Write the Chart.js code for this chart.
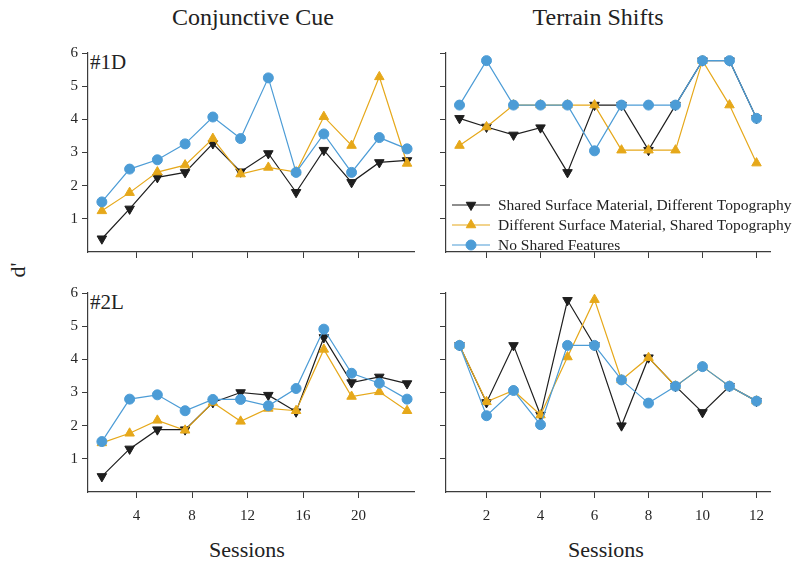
<!DOCTYPE html>
<html>
<head>
<meta charset="utf-8">
<script src="https://cdn.jsdelivr.net/npm/chart.js@4/dist/chart.umd.min.js"></script>
<style>
  body { margin: 0; background: #fff; width: 800px; height: 566px; overflow: hidden; position: relative; font-family: "Liberation Serif", "Times New Roman", serif; color: #222; }
  canvas { position: absolute; }
  .txt { position: absolute; white-space: nowrap; line-height: 1; }
</style>
</head>
<body>
<div class="txt" style="left:253px;top:5px;font-size:24px;transform:translateX(-50%)">Conjunctive Cue</div>
<div class="txt" style="left:598px;top:5px;font-size:24px;transform:translateX(-50%)">Terrain Shifts</div>
<div class="txt" style="left:247px;top:539px;font-size:22px;transform:translateX(-50%)">Sessions</div>
<div class="txt" style="left:606px;top:539px;font-size:22px;transform:translateX(-50%)">Sessions</div>
<div class="txt" style="left:18px;top:270px;font-size:22px;transform:translate(-50%,-50%) rotate(-90deg)">d'</div>
<div class="txt" style="left:90px;top:52px;font-size:21px">#1D</div>
<div class="txt" style="left:90px;top:292px;font-size:21px">#2L</div>

<canvas id="cue1D" width="386" height="257" style="left:43px;top:40px"></canvas>
<canvas id="terrain1D" width="399" height="257" style="left:401px;top:40px"></canvas>
<canvas id="cue2L" width="386" height="257" style="left:43px;top:280px"></canvas>
<canvas id="terrain2L" width="399" height="257" style="left:401px;top:280px"></canvas>

<script>
// sessions on the x axis
const cueSessions = [1.5, 3.5, 5.5, 7.5, 9.5, 11.5, 13.5, 15.5, 17.5, 19.5, 21.5, 23.5];
const terrainSessions = [1, 2, 3, 4, 5, 6, 7, 8, 9, 10, 11, 12];
const cueTicks = [4, 8, 12, 16, 20];
const terrainTicks = [2, 4, 6, 8, 10, 12];
const yTicks = [1, 2, 3, 4, 5, 6];

const seriesNames = [
    "Shared Surface Material, Different Topography",
    "Different Surface Material, Shared Topography",
    "No Shared Features"
];

// #1D
const cue1DShared = [0.40, 1.30, 2.25, 2.40, 3.27, 2.42, 2.97, 1.80, 3.07, 2.10, 2.70, 2.76];
const cue1DDiff = [1.24, 1.79, 2.41, 2.62, 3.42, 2.35, 2.55, 2.41, 4.08, 3.21, 5.28, 2.67];
const cue1DNone = [1.51, 2.50, 2.78, 3.26, 4.07, 3.42, 5.25, 2.40, 3.56, 2.40, 3.45, 3.11];
const terrain1DShared = [4.03, 3.77, 3.53, 3.75, 2.40, 4.43, 4.43, 3.07, 4.43, 5.77, 5.77, 4.03];
const terrain1DDiff = [3.21, 3.77, 4.43, 4.43, 4.43, 4.43, 3.07, 3.07, 3.07, 5.77, 4.43, 2.68];
const terrain1DNone = [4.43, 5.77, 4.43, 4.43, 4.43, 3.05, 4.43, 4.43, 4.43, 5.77, 5.77, 4.03];

// #2L
const cue2LShared = [0.47, 1.30, 1.88, 1.88, 2.70, 3.00, 2.92, 2.42, 4.66, 3.30, 3.47, 3.27];
const cue2LDiff = [1.48, 1.77, 2.16, 1.86, 2.70, 2.13, 2.52, 2.45, 4.30, 2.88, 3.02, 2.45];
const cue2LNone = [1.52, 2.80, 2.93, 2.45, 2.79, 2.79, 2.60, 3.12, 4.91, 3.58, 3.28, 2.80];
const terrain2LShared = [4.42, 2.70, 4.42, 2.32, 5.78, 4.42, 2.00, 4.05, 3.19, 2.40, 3.19, 2.74];
const terrain2LDiff = [4.42, 2.72, 3.06, 2.32, 4.07, 5.80, 3.38, 4.05, 3.19, 3.78, 3.19, 2.74];
const terrain2LNone = [4.42, 2.30, 3.06, 2.03, 4.42, 4.42, 3.38, 2.68, 3.19, 3.78, 3.19, 2.74];

const black = '#1e1e1e';
const orange = '#E6A81A';
const blue = '#4C9CD6';
const axisColor = '#3c3c3c';
const tickFont = { family: "'Liberation Serif', 'Times New Roman', serif", size: 15 };

// legend drawn inside the top right panel
const insideLegend = {
    id: 'insideLegend',
    afterDatasetsDraw(chart, args, opts) {
        if (!opts.show) return;
        let ctx = chart.ctx;
        let area = chart.chartArea;
        ctx.save();
        seriesNames.forEach((name, i) => {
            let ds = chart.data.datasets.find(d => d.label === name);
            let y = area.top + 152 + i * 20;
            ctx.strokeStyle = ds.borderColor;
            ctx.lineWidth = ds.borderWidth;
            ctx.beginPath();
            ctx.moveTo(area.left + 6, y);
            ctx.lineTo(area.left + 44, y);
            ctx.stroke();
            ctx.fillStyle = ds.pointBackgroundColor;
            ctx.lineWidth = 1;
            Chart.helpers.drawPoint(ctx, {
                pointStyle: ds.pointStyle,
                radius: ds.pointRadius,
                rotation: ds.pointRotation || 0,
                borderWidth: 1
            }, area.left + 25, y);
            ctx.fillStyle = '#222';
            ctx.font = "15.5px 'Liberation Serif', 'Times New Roman', serif";
            ctx.textBaseline = 'middle';
            ctx.fillText(name, area.left + 52, y + 1);
        });
        ctx.restore();
    }
};

function makeDataset(label, xs, ys, color, style, radius, rotation, order) {
    return {
        label: label,
        data: xs.map((x, i) => ({ x: x, y: ys[i] })),
        borderColor: color,
        backgroundColor: color,
        pointBackgroundColor: color,
        pointBorderColor: color,
        pointBorderWidth: 1,
        pointStyle: style,
        pointRadius: radius,
        pointRotation: rotation,
        borderWidth: 1.2,
        tension: 0,
        fill: false,
        order: order
    };
}

function setupPanel(id, xs, shared, diff, none, xMax, xTicks, showXLabels, showYLabels, showLegend, padRight) {
    let ctx = document.getElementById(id).getContext('2d');
    return new Chart(ctx, {
        type: 'line',
        data: {
            datasets: [
                makeDataset(seriesNames[0], xs, shared, black, 'triangle', 5.5, 180, 3),
                makeDataset(seriesNames[1], xs, diff, orange, 'triangle', 5.5, 0, 2),
                makeDataset(seriesNames[2], xs, none, blue, 'circle', 5, 0, 1)
            ]
        },
        options: {
            responsive: false,
            animation: false,
            clip: false,
            layout: { padding: { top: 10, right: padRight, left: 0, bottom: 0 } },
            scales: {
                x: {
                    type: 'linear',
                    min: 0.5,
                    max: xMax,
                    afterBuildTicks: scale => { scale.ticks = xTicks.map(v => ({ value: v })); },
                    afterFit: scale => { scale.height = 45; },
                    grid: { drawOnChartArea: false, drawTicks: true, tickLength: 6, color: axisColor, lineWidth: 1 },
                    border: { display: true, color: axisColor, width: 1.2 },
                    ticks: {
                        font: tickFont,
                        color: '#262626',
                        padding: 9,
                        maxRotation: 0,
                        callback: v => showXLabels ? v : ''
                    }
                },
                y: {
                    min: 0,
                    max: 6,
                    afterBuildTicks: scale => { scale.ticks = yTicks.map(v => ({ value: v })); },
                    afterFit: scale => { scale.width = 45; },
                    grid: { drawOnChartArea: false, drawTicks: true, tickLength: 6, color: axisColor, lineWidth: 1 },
                    border: { display: true, color: axisColor, width: 1.2 },
                    ticks: {
                        font: tickFont,
                        color: '#262626',
                        padding: 4,
                        callback: v => showYLabels ? v : ''
                    }
                }
            },
            plugins: {
                legend: { display: false },
                tooltip: { enabled: false },
                insideLegend: { show: showLegend }
            }
        },
        plugins: [insideLegend]
    });
}

setupPanel('cue1D', cueSessions, cue1DShared, cue1DDiff, cue1DNone, 24, cueTicks, false, true, false, 15);
setupPanel('terrain1D', terrainSessions, terrain1DShared, terrain1DDiff, terrain1DNone, 12.5, terrainTicks, false, false, true, 30);
setupPanel('cue2L', cueSessions, cue2LShared, cue2LDiff, cue2LNone, 24, cueTicks, true, true, false, 15);
setupPanel('terrain2L', terrainSessions, terrain2LShared, terrain2LDiff, terrain2LNone, 12.5, terrainTicks, true, false, false, 30);
</script>
</body>
</html>
